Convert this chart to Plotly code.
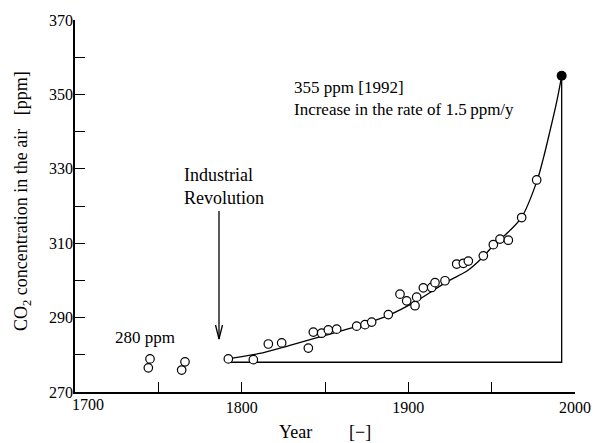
import plotly.graph_objects as go

# ---------------- data ----------------
obs_year = [1745, 1744, 1766, 1764,
            1792, 1807,
            1816, 1824, 1840,
            1843, 1848, 1852, 1857,
            1869, 1874, 1878, 1888,
            1895, 1899, 1904, 1905, 1909, 1914, 1916, 1922,
            1929, 1933, 1936, 1945,
            1951, 1955, 1960, 1968, 1977]
obs_ppm = [278.9, 276.5, 278.1, 275.9,
           278.9, 278.7,
           282.9, 283.2, 281.8,
           286.1, 285.8, 286.7, 286.9,
           287.7, 288.1, 288.8, 290.8,
           296.3, 294.5, 293.2, 295.5, 298.0, 298.1, 299.4, 299.9,
           304.4, 304.6, 305.2, 306.6,
           309.6, 311.1, 310.8, 316.9, 327.0]

curve_year = [1791, 1810, 1830, 1850, 1870, 1888, 1905, 1923, 1936, 1945,
              1951, 1960, 1968, 1977, 1981, 1985, 1989, 1992]
curve_ppm = [278.9, 280.3, 282.7, 285.2, 287.8, 290.6, 294.5, 299.6, 302.8, 306.4,
             309.4, 313.0, 317.0, 326.5, 332.8, 340.2, 348.0, 355.0]

latest_year = [1992]
latest_ppm = [355]

tri_year = [1791, 1992, 1992]
tri_ppm = [278, 278, 355]

y_major = [270, 290, 310, 330, 350, 370]
y_minor = [280, 300, 320, 340, 360]
x_major = [1800, 1900, 2000]
x_minor = [1750, 1850, 1950]

# ---------------- layout helpers ----------------
W, H = 599, 443
L, R, T, B = 75, 24, 20, 51
PW, PH = W - L - R, H - T - B


def px(x):
    return (x - L) / PW


def py(y):
    return (H - B - y) / PH


FONT = "Liberation Serif"
BLACK = "#000000"

fig = go.Figure()

fig.add_trace(go.Scatter(x=tri_year, y=tri_ppm, mode="lines",
                         line=dict(color=BLACK, width=1.3), hoverinfo="skip",
                         showlegend=False))
fig.add_trace(go.Scatter(x=curve_year, y=curve_ppm, mode="lines",
                         line=dict(color=BLACK, width=1.3, shape="spline", smoothing=1),
                         showlegend=False))
fig.add_trace(go.Scatter(x=obs_year, y=obs_ppm, mode="markers",
                         marker=dict(size=8.5, color="white", symbol="circle",
                                     line=dict(color=BLACK, width=1.2)),
                         cliponaxis=False, showlegend=False))
fig.add_trace(go.Scatter(x=latest_year, y=latest_ppm, mode="markers",
                         marker=dict(size=10, color=BLACK),
                         cliponaxis=False, showlegend=False))

ann = []


def text(s, x, y, size=18, xanchor="center", yanchor="middle", angle=0):
    ann.append(dict(text=s, x=px(x), y=py(y), xref="paper", yref="paper",
                    xanchor=xanchor, yanchor=yanchor, showarrow=False,
                    textangle=angle, align="left",
                    font=dict(family=FONT, size=size, color=BLACK)))


text("355 ppm [1992]<br>Increase in the rate of 1.5\u2009ppm/y", 292, 98, size=17, xanchor="left")
text("Industrial<br>Revolution", 182, 186, size=18, xanchor="left")
text("280 ppm", 145, 337, size=17)
text("CO<sub>2</sub> concentration in the air\u00a0\u00a0\u00a0[ppm]", 22, 201, size=18, angle=-90)
text("Year", 295, 432, size=18)
text("[\u2212]", 360, 432, size=18)
text("1700", 88, 404, size=16)

fig.update_layout(annotations=ann)

# arrow (Industrial Revolution)
fig.add_shape(type="line", xref="paper", yref="paper",
              x0=px(219), x1=px(219), y0=py(211), y1=py(339),
              line=dict(color=BLACK, width=1.3))
fig.add_shape(type="path", xref="paper", yref="paper",
              path=f"M {px(215.5)},{py(325)} L {px(219)},{py(339)} L {px(222.5)},{py(325)}",
              line=dict(color=BLACK, width=1.3))

common = dict(ticks="inside", ticklen=10, tickwidth=1.3, tickcolor=BLACK,
              showline=True, linecolor=BLACK, linewidth=1.6,
              showgrid=False, zeroline=False,
              tickfont=dict(family=FONT, size=16, color=BLACK))
fig.update_xaxes(range=[1700, 2000], tickvals=x_major,
                 minor=dict(tickvals=x_minor, ticks="inside", ticklen=10,
                            tickwidth=1.3, tickcolor=BLACK, showgrid=False),
                 **common)
fig.update_yaxes(range=[270, 370], tickvals=y_major, ticklabelstandoff=-3,
                 minor=dict(tickvals=y_minor, ticks="inside", ticklen=10,
                            tickwidth=1.3, tickcolor=BLACK, showgrid=False),
                 **common)

fig.update_layout(width=W, height=H, margin=dict(l=L, r=R, t=T, b=B, autoexpand=False),
                  plot_bgcolor="white", paper_bgcolor="white", showlegend=False)

fig.write_html("out.html", config={"displayModeBar": False},
               post_script="document.body.style.margin='0';")
